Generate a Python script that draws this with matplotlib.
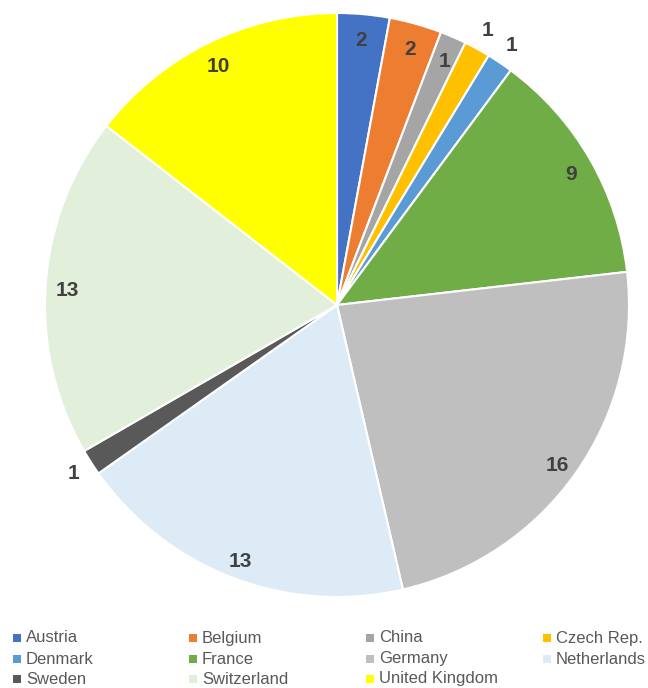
import matplotlib
matplotlib.use("Agg")
import matplotlib.pyplot as plt
from matplotlib.patches import Rectangle

countries = ["Austria", "Belgium", "China", "Czech Rep.", "Denmark", "France",
             "Germany", "Netherlands", "Sweden", "Switzerland", "United Kingdom"]
values = [2, 2, 1, 1, 1, 9, 16, 13, 1, 13, 10]
colors = ["#4472C4", "#ED7D31", "#A5A5A5", "#FFC000", "#5B9BD5", "#70AD47",
          "#BFBFBF", "#DDEBF7", "#595959", "#E2EFDA", "#FFFF00"]
outside = ["Czech Rep.", "Denmark", "Sweden"]

plt.rcParams['font.family'] = ['Liberation Sans', 'DejaVu Sans']

fig = plt.figure(figsize=(6.48, 6.88), dpi=100)
ax = fig.add_axes([45/648, 1 - 597/688, 584/648, 584/688])

wedges, texts = ax.pie(values, colors=colors, startangle=90, counterclock=False,
                       radius=1.0, labels=[str(v) for v in values], labeldistance=0.92,
                       wedgeprops=dict(edgecolor="white", linewidth=1.5))
for t, c in zip(texts, countries):
    t.set_fontsize(15)
    t.set_fontweight("bold")
    t.set_color("#404040")
    t.set_ha("center")
    t.set_va("center")
    x, y = t.get_position()
    if c in outside:
        t.set_position((x / 0.92 * 1.07, y / 0.92 * 1.07))
    else:
        t.set_position((x / 0.92 * 0.925, y / 0.92 * 0.925 - 0.015))
ax.set_xlim(-1, 1)
ax.set_ylim(-1, 1)
ax.set_aspect("equal")
ax.axis("off")

W, H = 648, 688
col_x = [13, 189, 366, 543]
row_y = [638, 659, 679]
sq = 8
for i, (c, col) in enumerate(zip(countries, colors)):
    r, k = divmod(i, 4)
    x = col_x[k]
    y = row_y[r]
    fig.patches.append(Rectangle(((x) / W, 1 - (y + sq / 2) / H), sq / W, sq / H,
                                 transform=fig.transFigure, facecolor=col,
                                 edgecolor="none"))
    fig.text((x + 13) / W, 1 - y / H, c, fontsize=12, color="#595959",
             ha="left", va="center")

fig.savefig("out.png", dpi=100)
